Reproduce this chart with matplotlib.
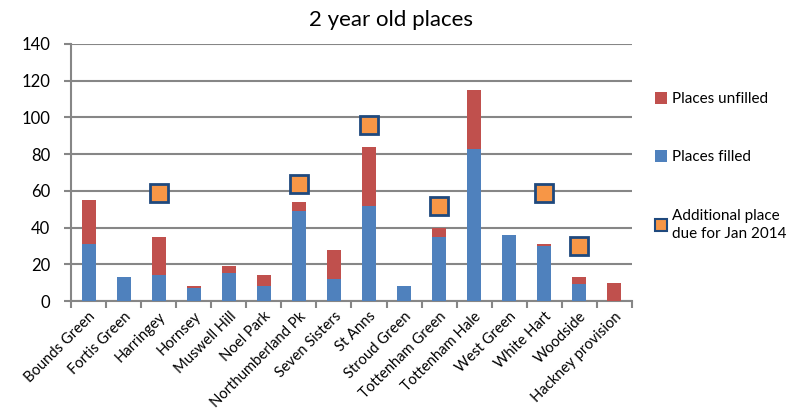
import numpy as np
import matplotlib
matplotlib.use("Agg")
import matplotlib.pyplot as plt
from matplotlib.lines import Line2D
from matplotlib.patches import Patch

areas = ["Bounds Green", "Fortis Green", "Harringey", "Hornsey", "Muswell Hill",
         "Noel Park", "Northumberland Pk", "Seven Sisters", "St Anns", "Stroud Green",
         "Tottenham Green", "Tottenham Hale", "West Green", "White Hart", "Woodside",
         "Hackney provision"]
filled = [31, 13, 14, 7, 15, 8, 49, 12, 52, 8, 35, 83, 36, 30, 9, 0]
unfilled = [24, 0, 21, 1, 4, 6, 5, 16, 32, 0, 5, 32, 0, 1, 4, 10]
additional = [np.nan, np.nan, 59, np.nan, np.nan, np.nan, 64, np.nan, 96, np.nan,
              52, np.nan, np.nan, 59, 30, np.nan]

plt.rcParams['font.family'] = ['Lato', 'DejaVu Sans']

blue = "#4F81BD"
red = "#C0504D"
orange = "#F79646"
navy = "#1F497D"
grid_grey = "#868686"

fig = plt.figure(figsize=(7.9, 4.11), dpi=100)
ax = fig.add_axes([0.0899, 0.2676, 0.71, 0.6254])

x = np.arange(len(areas))
ax.bar(x, filled, width=0.4, color=blue, zorder=3)
ax.bar(x, unfilled, width=0.4, bottom=filled, color=red, zorder=3)
ax.plot(x, additional, linestyle="none", marker="s", markersize=12.5,
        markerfacecolor=orange, markeredgecolor=navy, markeredgewidth=2, zorder=4)

ax.set_xlim(-0.5, len(areas) - 0.5)
ax.set_ylim(0, 140)
ax.set_yticks(range(0, 141, 20))
ax.yaxis.grid(True, color=grid_grey, linewidth=1.5, zorder=0)
ax.tick_params(axis="y", length=5, width=1.5, color=grid_grey, labelsize=12, pad=10)

# category boundaries carry the x ticks, labels sit at the centres
ax.set_xticks(np.arange(-0.5, len(areas)), minor=True)
ax.set_xticks(x)
ax.set_xticklabels(areas, rotation=45, ha="right", rotation_mode="anchor", fontsize=10.6)
ax.tick_params(axis="x", which="major", length=0, pad=6)
ax.tick_params(axis="x", which="minor", length=5, width=1.5, color=grid_grey)

for side in ("top", "right"):
    ax.spines[side].set_visible(False)
for side in ("left", "bottom"):
    ax.spines[side].set_color(grid_grey)
    ax.spines[side].set_linewidth(1.5)

fig.suptitle("2 year old places", x=0.495, y=0.975, fontsize=16)

handles = [
    Patch(facecolor=red, edgecolor="none"),
    Patch(facecolor=blue, edgecolor="none"),
    Line2D([], [], linestyle="none", marker="s", markersize=9,
           markerfacecolor=orange, markeredgecolor=navy, markeredgewidth=1.5),
]
labels = ["Places unfilled", "Places filled", "Additional place\ndue for Jan 2014"]
leg = fig.legend(handles, labels, loc="upper left", bbox_to_anchor=(0.812, 0.81),
                 frameon=False, fontsize=11, labelspacing=2.9, handlelength=0.8,
                 handleheight=0.8, handletextpad=0.3)
for t in leg.get_texts():
    t.set_linespacing(1.35)

fig.savefig("out.png", dpi=100)
